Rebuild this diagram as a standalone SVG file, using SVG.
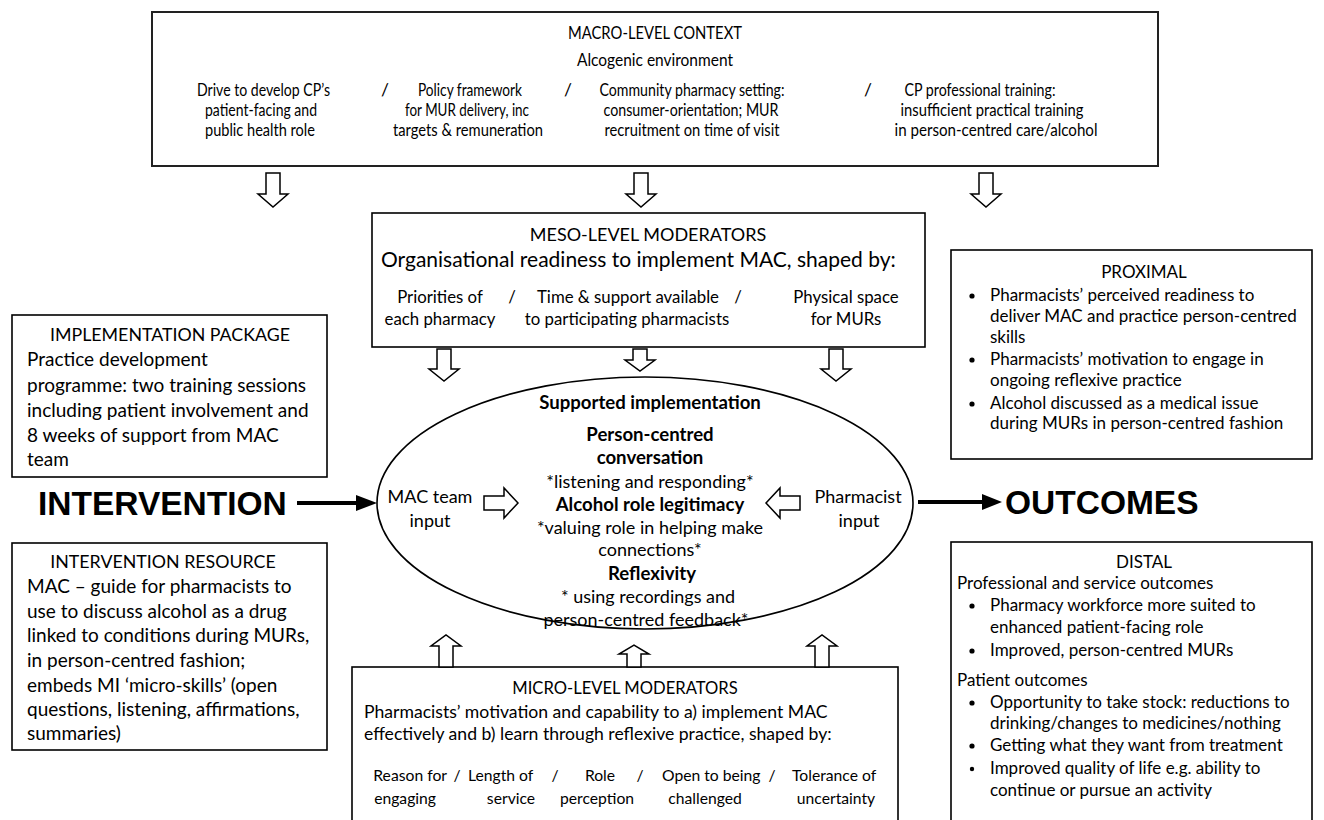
<svg xmlns="http://www.w3.org/2000/svg" width="1324" height="820" viewBox="0 0 1324 820">
<style>
text{font-family:Lato,"Open Sans","Liberation Sans",sans-serif;fill:#000}
.box{fill:#fff;stroke:#000;stroke-width:1.6}
.mbox{fill:#fff;stroke:#222;stroke-width:2}
.ha{fill:#fff;stroke:#000;stroke-width:1.5;stroke-linejoin:miter}
.mac{font-size:17.5px}
.mact{font-size:18px}
.c{text-anchor:middle}
.e{text-anchor:end}
.mesoh{font-size:18px}
.mesos{font-size:21px}
.mrow{font-size:16.8px}
.row{font-size:15.7px}
.ell{font-size:18px}
.eb{font-size:18.6px;font-weight:bold}
.lb{font-size:19px}
.lt{font-size:17.8px}
.rb{font-size:17px}
.mic{font-size:17.6px}
.mich{font-size:16.6px}
.big{font-family:"Liberation Sans",Arial,sans-serif;font-weight:bold;font-size:33.5px}
</style>
<rect width="1324" height="820" fill="#fff"/>

<g id="macro">
<rect class="mbox" x="152" y="12" width="1006" height="154"/>
<text class="mact c" x="655" y="39" textLength="174" lengthAdjust="spacingAndGlyphs">MACRO-LEVEL CONTEXT</text>
<text class="mact c" x="655" y="66" textLength="156" lengthAdjust="spacingAndGlyphs">Alcogenic environment</text>
<text class="mac" x="197" y="96" textLength="133" lengthAdjust="spacingAndGlyphs">Drive to develop CP’s</text>
<text class="mac" x="205" y="116" textLength="112" lengthAdjust="spacingAndGlyphs">patient-facing and</text>
<text class="mac" x="205" y="136" textLength="110" lengthAdjust="spacingAndGlyphs">public health role</text>
<text class="mac c" x="385" y="96">/</text>
<text class="mac" x="418" y="96" textLength="104" lengthAdjust="spacingAndGlyphs">Policy framework</text>
<text class="mac" x="405" y="116" textLength="124" lengthAdjust="spacingAndGlyphs">for MUR delivery, inc</text>
<text class="mac" x="393" y="136" textLength="150" lengthAdjust="spacingAndGlyphs">targets &amp; remuneration</text>
<text class="mac c" x="568" y="96">/</text>
<text class="mac c" x="692" y="96" textLength="185" lengthAdjust="spacingAndGlyphs">Community pharmacy setting:</text>
<text class="mac c" x="691" y="116" textLength="175" lengthAdjust="spacingAndGlyphs">consumer-orientation; MUR</text>
<text class="mac c" x="692" y="136" textLength="175" lengthAdjust="spacingAndGlyphs">recruitment on time of visit</text>
<text class="mac c" x="868" y="96">/</text>
<text class="mac c" x="980" y="96" textLength="151" lengthAdjust="spacingAndGlyphs">CP professional training:</text>
<text class="mac c" x="992" y="116" textLength="183" lengthAdjust="spacingAndGlyphs">insufficient practical training</text>
<text class="mac c" x="996" y="136" textLength="203" lengthAdjust="spacingAndGlyphs">in person-centred care/alcohol</text>
</g>

<g id="meso">
<rect class="box" x="372" y="213" width="553" height="134"/>
<text class="mesoh c" x="648" y="241">MESO-LEVEL MODERATORS</text>
<text class="mesos" x="381" y="267">Organisational readiness to implement MAC, shaped by:</text>
<text class="mrow c" x="440" y="303">Priorities of</text>
<text class="mrow c" x="512" y="303">/</text>
<text class="mrow c" x="628" y="303">Time &amp; support available</text>
<text class="mrow c" x="738" y="303">/</text>
<text class="mrow c" x="846" y="303">Physical space</text>
<text class="mrow c" x="440" y="325">each pharmacy</text>
<text class="mrow c" x="627" y="325">to participating pharmacists</text>
<text class="mrow c" x="846" y="325">for MURs</text>
</g>

<g id="implementation">
<ellipse class="box" cx="645" cy="503" rx="268" ry="126"/>
<text class="eb c" x="650" y="409">Supported implementation</text>
<text class="eb c" x="650" y="441">Person-centred</text>
<text class="eb c" x="650" y="464">conversation</text>
<text class="ell c" x="650" y="488">*listening and responding*</text>
<text class="eb c" x="650" y="511">Alcohol role legitimacy</text>
<text class="ell c" x="650" y="534">*valuing role in helping make</text>
<text class="ell c" x="650" y="556">connections*</text>
<text class="eb c" x="652" y="580">Reflexivity</text>
<text class="ell c" x="648" y="603">* using recordings and</text>
<text class="ell c" x="646" y="626">person-centred feedback*</text>
<text class="ell c" x="430" y="503">MAC team</text>
<text class="ell c" x="430" y="527">input</text>
<text class="ell c" x="858" y="503">Pharmacist</text>
<text class="ell c" x="859" y="527">input</text>
</g>

<g id="impl-package">
<rect class="box" x="12" y="315" width="315" height="162"/>
<text class="lt c" x="170" y="341">IMPLEMENTATION PACKAGE</text>
<text class="lb" x="27" y="366">Practice development</text>
<text class="lb" x="27" y="392">programme: two training sessions</text>
<text class="lb" x="27" y="417">including patient involvement and</text>
<text class="lb" x="27" y="442">8 weeks of support from MAC</text>
<text class="lb" x="27" y="466">team</text>
</g>

<g id="intervention">
<text class="big" x="38" y="515">INTERVENTION</text>
</g>

<g id="resource">
<rect class="box" x="12" y="543" width="315" height="207"/>
<text class="lt c" x="163" y="568">INTERVENTION RESOURCE</text>
<text class="lb" x="27" y="593">MAC – guide for pharmacists to</text>
<text class="lb" x="27" y="618">use to discuss alcohol as a drug</text>
<text class="lb" x="27" y="642">linked to conditions during MURs,</text>
<text class="lb" x="27" y="667">in person-centred fashion;</text>
<text class="lb" x="27" y="692">embeds MI ‘micro-skills’ (open</text>
<text class="lb" x="27" y="716">questions, listening, affirmations,</text>
<text class="lb" x="27" y="740">summaries)</text>
</g>

<g id="micro">
<rect class="box" x="352" y="667" width="546" height="200"/>
<text class="mich c" x="625" y="694">MICRO-LEVEL MODERATORS</text>
<text class="mic" x="364" y="718">Pharmacists’ motivation and capability to a) implement MAC</text>
<text class="mic" x="364" y="740">effectively and b) learn through reflexive practice, shaped by:</text>
<text class="row e" x="447" y="781">Reason for</text>
<text class="row c" x="457" y="781">/</text>
<text class="row" x="468" y="781">Length of</text>
<text class="row c" x="555" y="781">/</text>
<text class="row c" x="600" y="781">Role</text>
<text class="row c" x="640" y="781">/</text>
<text class="row" x="662" y="781">Open to being</text>
<text class="row c" x="772" y="781">/</text>
<text class="row" x="792" y="781">Tolerance of</text>
<text class="row e" x="436" y="804">engaging</text>
<text class="row c" x="511" y="804">service</text>
<text class="row c" x="597" y="804">perception</text>
<text class="row c" x="705" y="804">challenged</text>
<text class="row c" x="836" y="804">uncertainty</text>
</g>

<g id="proximal">
<rect class="box" x="951" y="250" width="361" height="209"/>
<text class="rb c" x="1144" y="278">PROXIMAL</text>
<circle cx="972" cy="296" r="2.6"/>
<text class="rb" x="990" y="301">Pharmacists’ perceived readiness to</text>
<text class="rb" x="990" y="322">deliver MAC and practice person-centred</text>
<text class="rb" x="990" y="343">skills</text>
<circle cx="972" cy="360" r="2.6"/>
<text class="rb" x="990" y="365">Pharmacists’ motivation to engage in</text>
<text class="rb" x="990" y="386">ongoing reflexive practice</text>
<circle cx="972" cy="404" r="2.6"/>
<text class="rb" x="990" y="409">Alcohol discussed as a medical issue</text>
<text class="rb" x="990" y="429">during MURs in person-centred fashion</text>
</g>

<g id="outcomes">
<text class="big" x="1005" y="514">OUTCOMES</text>
</g>

<g id="distal">
<rect class="box" x="951" y="542" width="361" height="300"/>
<text class="rb c" x="1144" y="568">DISTAL</text>
<text class="rb" x="957" y="589">Professional and service outcomes</text>
<circle cx="972" cy="606" r="2.6"/>
<text class="rb" x="990" y="611">Pharmacy workforce more suited to</text>
<text class="rb" x="990" y="633">enhanced patient-facing role</text>
<circle cx="972" cy="651" r="2.6"/>
<text class="rb" x="990" y="656">Improved, person-centred MURs</text>
<text class="rb" x="957" y="686">Patient outcomes</text>
<circle cx="972" cy="703" r="2.6"/>
<text class="rb" x="990" y="708">Opportunity to take stock: reductions to</text>
<text class="rb" x="990" y="729">drinking/changes to medicines/nothing</text>
<circle cx="972" cy="746" r="2.6"/>
<text class="rb" x="990" y="751">Getting what they want from treatment</text>
<circle cx="972" cy="769" r="2.2"/>
<text class="rb" x="990" y="774">Improved quality of life e.g. ability to</text>
<text class="rb" x="990" y="796">continue or pursue an activity</text>
</g>

<g id="connectors">
<path class="ha" d="M266,173 H280 V194 H288 L273,207 L258,194 H266 Z"/>
<path class="ha" d="M634,173 H648 V194 H656 L641,207 L626,194 H634 Z"/>
<path class="ha" d="M979,173 H993 V194 H1001 L986,207 L971,194 H979 Z"/>
<path class="ha" d="M437,349 H451 V369 H459 L444,381 L429,369 H437 Z"/>
<path class="ha" d="M633,349 H647 V360 H655 L640,371 L625,360 H633 Z"/>
<path class="ha" d="M829,349 H843 V369 H851 L836,381 L821,369 H829 Z"/>
<path class="ha" d="M439,667 H453 V646 H461 L446,635 L431,646 H439 Z"/>
<path class="ha" d="M627,667 H641 V654 H649 L634,645 L619,654 H627 Z"/>
<path class="ha" d="M815,667 H829 V646 H837 L822,635 L807,646 H815 Z"/>
<path class="ha" d="M484,496 H504 V488 L518,503 L504,518 V510 H484 Z"/>
<path class="ha" d="M800,496 H780 V488 L766,503 L780,518 V510 H800 Z"/>
<line x1="297" y1="503" x2="360" y2="503" stroke="#000" stroke-width="4"/>
<polygon points="356,495 377,503 356,511" fill="#000"/>
<line x1="918" y1="502" x2="985" y2="502" stroke="#000" stroke-width="4"/>
<polygon points="982,494 1002,502 982,510" fill="#000"/>
</g>
</svg>
